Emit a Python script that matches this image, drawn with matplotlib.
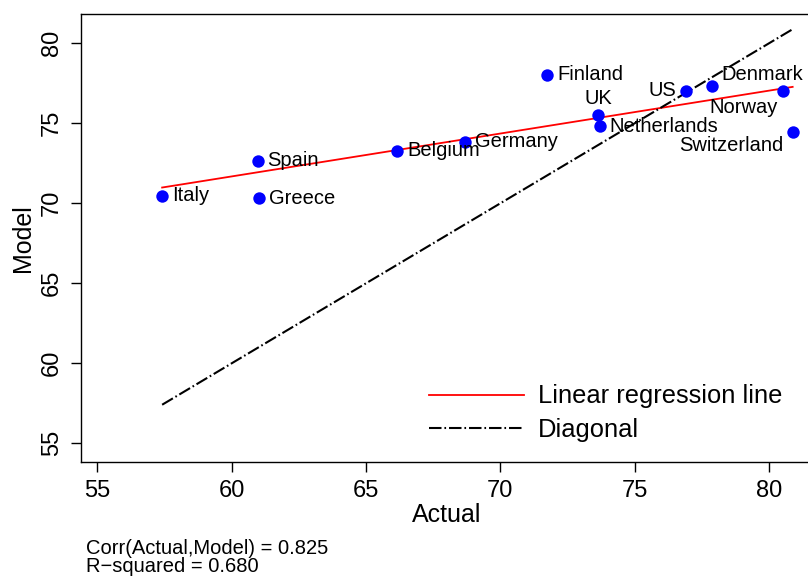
import numpy as np
import matplotlib
matplotlib.use("Agg")
import matplotlib.pyplot as plt

plt.rcParams['font.family'] = ['Liberation Sans', 'DejaVu Sans']

# datos
paises = ['Italy', 'Greece', 'Spain', 'Belgium', 'Germany', 'Finland',
          'UK', 'Netherlands', 'US', 'Denmark', 'Norway', 'Switzerland']
actual = [57.41, 61.01, 60.97, 66.16, 68.68, 71.75,
          73.65, 73.71, 76.91, 77.87, 80.53, 80.88]
modelo = [70.48, 70.31, 72.66, 73.29, 73.85, 78.02,
          75.52, 74.83, 77.04, 77.35, 77.04, 74.48]
corr_txt = 'Corr(Actual,Model) = 0.825'
r2_txt = 'R\u2212squared = 0.680'

# donde va cada etiqueta (offset en puntos, ha, va)
pos_etiq = {
    'UK': ((0, 12), 'center', 'center'),
    'US': ((-7, 0), 'right', 'center'),
    'Denmark': ((7, 8), 'left', 'center'),
    'Norway': ((-4, -12), 'right', 'center'),
    'Switzerland': ((-7, -10), 'right', 'center'),
}

x = np.array(actual)
y = np.array(modelo)

fig = plt.figure(figsize=(8.08, 5.76), dpi=100)
ax = fig.add_axes([81/808, (576-461.7)/576, (812-81)/808, (461.7-14)/576])

# recta de regresion
b, a = np.polyfit(x, y, 1)
xr = np.array([x.min(), x.max()])
ax.plot(xr, a + b*xr, color='#FF0000', lw=1.3, label='Linear regression line')
# diagonal
ax.plot(xr, xr, color='black', lw=1.5, dashes=(6, 1.4, 0.8, 1.4), label='Diagonal')

ax.scatter(x, y, s=80, color='#0000FF', zorder=3, linewidths=0)

for p, xi, yi in zip(paises, x, y):
    off, ha, va = pos_etiq.get(p, ((7, 0), 'left', 'center'))
    ax.annotate(p, (xi, yi), xytext=off, textcoords='offset points',
                ha=ha, va=va, fontsize=14.5)

ax.set_xlim(54.39, 81.6)
ax.set_ylim(53.85, 81.83)
ax.set_xticks([55, 60, 65, 70, 75, 80])
ax.set_yticks([55, 60, 65, 70, 75, 80])
ax.tick_params(axis='both', labelsize=17, length=7, width=1.0, pad=6)
ax.tick_params(axis='y', pad=6)
plt.setp(ax.get_yticklabels(), rotation=90, va='center')
for s in ax.spines.values():
    s.set_linewidth(1.0)

ax.set_xlabel('Actual', fontsize=18, labelpad=1)
ax.set_ylabel('Model', fontsize=18, labelpad=4)

ax.legend(loc='center left', bbox_to_anchor=(0.476, 0.108), frameon=False,
          fontsize=18.4, handlelength=3.7, handletextpad=0.55,
          labelspacing=0.38, borderpad=0, borderaxespad=0)

fig.text(86/808, 1 - 548/576, corr_txt, fontsize=14.5, va='center')
fig.text(86/808, 1 - 567/576, r2_txt, fontsize=14.5, va='center')

fig.savefig('out.png', dpi=100)
